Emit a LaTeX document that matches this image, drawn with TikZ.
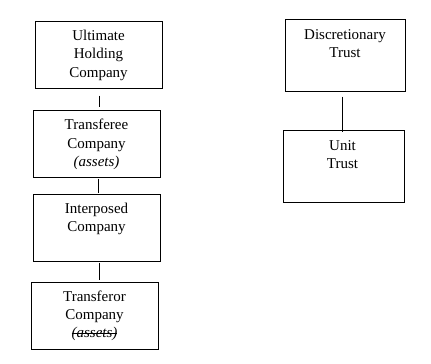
\documentclass[tikz,border=0pt]{standalone}
\usepackage{fontspec}
\setmainfont{Liberation Serif}
\usetikzlibrary{calc}
\newcommand\mystrike[1]{\setbox0\hbox{#1}\rlap{\rule[0.27em]{\wd0}{0.7pt}}\box0}
\tikzset{
  box/.style={draw, line width=1pt, rectangle, minimum width=#1, inner sep=0pt},
  boxtext/.style={anchor=north, align=center, inner sep=0pt, font=\fontsize{15}{18.3}\selectfont},
  conn/.style={line width=1pt}
}
\begin{document}
\begin{tikzpicture}[x=1pt,y=-1pt]
\useasboundingbox (0,0) rectangle (431,364);
\node[box=127, minimum height=67] (b1) at (98.5,54.5) {};
\node[box=127, minimum height=67] (b2) at (96.5,143.5) {};
\node[box=127, minimum height=67] (b3) at (96.5,227.5) {};
\node[box=127, minimum height=67] (b4) at (94.5,315.5) {};
\node[box=120, minimum height=72] (b5) at (345,55) {};
\node[box=121, minimum height=72] (b6) at (343.5,166) {};
\node[boxtext] (t1) at ($(b1.north)+(0,9.5)$) {Ultimate\\Holding\\Company};
\node[boxtext] (t2) at ($(b2.north)+(0,9.5)$) {Transferee\\Company\\\textit{(assets)}};
\node[boxtext] (t3) at ($(b3.north)+(0,9.5)$) {Interposed\\Company};
\node[boxtext] (t4) at ($(b4.north)+(0,9)$) {Transferor\\Company\\\mystrike{\textit{(assets)}}};
\node[boxtext] (t5) at ($(b5.north)+(0,10.5)$) {Discretionary\\Trust};
\node[boxtext] (t6) at ($(b6.north)+(-1,10.5)$) {Unit\\Trust};
\draw[conn] ($(b1.south)+(0.8,7)$) -- ($(b2.north)+(2.8,-3)$);
\draw[conn] ($(b2.south)+(1.8,1)$) -- ($(b3.north)+(1.8,-1)$);
\draw[conn] ($(b3.south)+(2.8,1)$) -- ($(b4.north)+(4.8,-2)$);
\draw[conn] ($(b5.south)+(-2.7,5)$) -- ($(b6.north)+(-1.2,2)$);
\end{tikzpicture}
\end{document}
